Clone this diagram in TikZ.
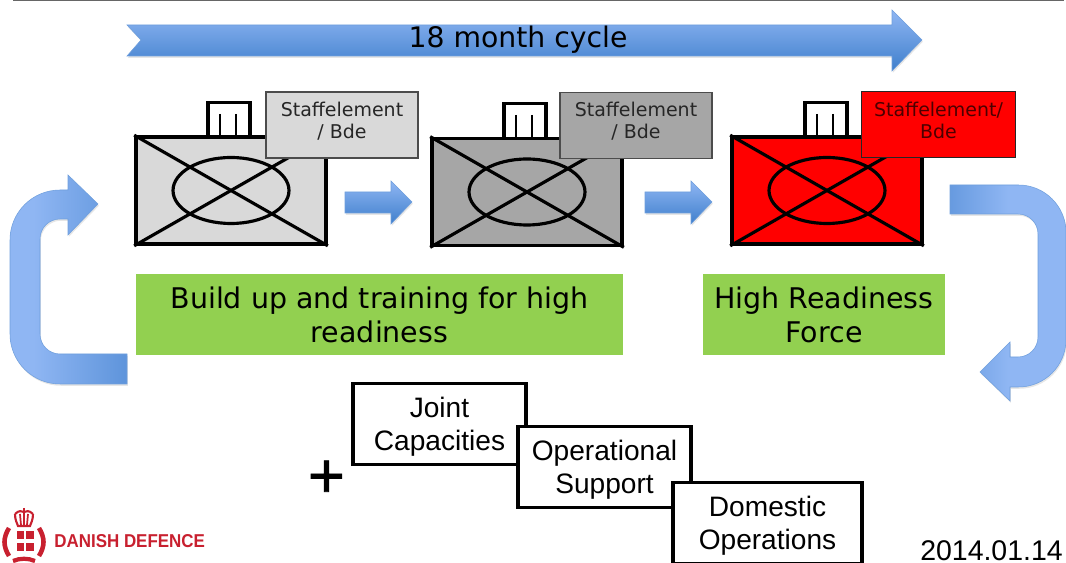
\documentclass[tikz,border=0pt]{standalone}
\usepackage{fontspec}
\setmainfont{DejaVu Sans}
\newfontfamily\arialfont{Liberation Sans}
\newfontfamily\plusfont[FakeBold=1.2]{Liberation Sans}
\usetikzlibrary{positioning, calc, shadows, shapes.geometric}
\definecolor{arrowlight}{HTML}{8FB6F3}
\definecolor{arrowdark}{HTML}{3F7FCC}
\definecolor{arrowedge}{HTML}{6F9FDC}
\definecolor{lightbde}{HTML}{D9D9D9}
\definecolor{midbde}{HTML}{A6A6A6}
\definecolor{greenbox}{HTML}{92D050}
\definecolor{logored}{HTML}{C8202F}
\newcommand{\staffdrop}{\rule[-5.8pt]{0pt}{0pt}}
\newcommand{\tasklift}{\rule{0pt}{15pt}}
\pgfdeclarehorizontalshading{ushadeleft}{100bp}{color(0bp)=(arrowlight); color(35bp)=(arrowlight); color(100bp)=(arrowdark)}
\pgfdeclarehorizontalshading{ushaderight}{100bp}{color(0bp)=(arrowdark); color(50bp)=(arrowlight); color(100bp)=(arrowlight)}
\tikzset{
	blockarrow/.style={draw=arrowedge, line width=.3pt, drop shadow={opacity=.2, shadow xshift=.5pt, shadow yshift=-1pt}},
	vertarrow/.style={blockarrow, top color=arrowlight, bottom color=arrowdark},
	bdebox/.style={draw=black, line width=2.1pt, minimum width=3.8cm, minimum height=2.14cm, inner sep=0pt, drop shadow={opacity=.25, shadow xshift=.5pt, shadow yshift=-1pt}},
	tabbox/.style={draw=black, line width=2.1pt, fill=white, minimum width=.84cm, minimum height=.7cm, inner sep=0pt},
	echelon/.style={draw=black, line width=1.8pt, ellipse, minimum width=2.32cm, minimum height=1.32cm, inner sep=0pt},
	crossline/.style={line width=1.8pt},
	tabline/.style={line width=1.7pt},
	staffbox/.style={draw=black!70, line width=.6pt, minimum width=3.04cm, minimum height=1.32cm, inner sep=0pt, align=center, font=\fontsize{10.8}{12.6}\selectfont},
	phasebox/.style={fill=greenbox, minimum height=1.62cm, inner sep=0pt, align=center, font=\fontsize{16.2}{19.3}\selectfont},
	taskbox/.style={draw=black, fill=white, line width=1.9pt, minimum height=1.62cm, inner sep=0pt, align=center, font=\arialfont\fontsize{16}{18.9}\selectfont},
}

\begin{document}
\begin{tikzpicture}[x=.02cm, y=-.02cm]
	\useasboundingbox (0,0) rectangle (1066,563);

	\draw [gray!80!black, line width=.8pt] (13,.5) -- (1064,.5);

	% cycle arrow
	\draw [vertarrow] (127,25) -- (892,25) -- (892,10) -- (922,40) -- (892,71) -- (892,56) -- (127,56) -- (141,40) -- cycle;
	\node (cycle) at (518,40) {\fontsize{16.1}{19}\selectfont 18 month cycle};

	% first brigade
	\node [tabbox] (taba) at (229,120) {};
	\draw [tabline] (220,114) -- (220,137);
	\draw [tabline] (236,114) -- (236,137);
	\node [bdebox, fill=lightbde] (boxa) at (231,190.5) {};
	\node [echelon] (ella) at (boxa) {};
	\draw [crossline] (boxa.north west) -- (boxa.south east);
	\draw [crossline] (boxa.south west) -- (boxa.north east);
	\node [staffbox, fill=lightbde, text=black!85] (staffa) at (342,125) {Staffelement\\/ Bde\staffdrop};

	% second brigade
	\node [tabbox] (tabb) at (525,121) {};
	\draw [tabline] (516,115) -- (516,138);
	\draw [tabline] (532,115) -- (532,138);
	\node [bdebox, fill=midbde] (boxb) at (527,192) {};
	\node [echelon] (ellb) at (boxb) {};
	\draw [crossline] (boxb.north west) -- (boxb.south east);
	\draw [crossline] (boxb.south west) -- (boxb.north east);
	\node [staffbox, fill=midbde, text=black!85] (staffb) at (636,125.5) {Staffelement\\/ Bde\staffdrop};

	% third brigade
	\node [tabbox] (tabc) at (826,120) {};
	\draw [tabline] (817,114) -- (817,137);
	\draw [tabline] (833,114) -- (833,137);
	\node [bdebox, fill=red] (boxc) at (827,190.5) {};
	\node [echelon] (ellc) at (boxc) {};
	\draw [crossline] (boxc.north west) -- (boxc.south east);
	\draw [crossline] (boxc.south west) -- (boxc.north east);
	\node [staffbox, draw=black!85, fill=red, text=red!30!black, minimum width=3.08cm] (staffc) at (938.5,124.5) {Staffelement/\\Bde\rule[-4.6pt]{0pt}{0pt}};

	% small arrows
	\draw [vertarrow] (345,192) -- (391,192) -- (391,181) -- (412,202) -- (391,224) -- (391,213) -- (345,213) -- cycle;
	\draw [vertarrow] (645,192) -- (691,192) -- (691,181) -- (712,202) -- (691,224) -- (691,213) -- (645,213) -- cycle;

	% big return arrows
	\draw [blockarrow, shading=ushadeleft] (127,384) [rounded corners=1cm] -- (10,384) -- (10,190) [sharp corners] -- (68,190) -- (68,175) -- (98,204) -- (68,235) -- (68,219) [rounded corners=.4cm] -- (40,219) -- (40,354) [sharp corners] -- (127,354) -- cycle;
	\draw [blockarrow, shading=ushaderight] (950,185) [rounded corners=.95cm] -- (1066,185) -- (1066,387) [sharp corners] -- (1010,387) -- (1010,401) -- (980,372) -- (1010,342) -- (1010,357) [rounded corners=.4cm] -- (1038,357) -- (1038,214) [sharp corners] -- (950,214) -- cycle;

	% phases
	\node [phasebox, minimum width=9.74cm] (buildup) at (379.5,314.5) {Build up and training for high\\readiness};
	\node [phasebox, minimum width=4.84cm] (readiness) at (824,314.5) {High Readiness\\Force};

	% tasks
	\node [taskbox, minimum width=3.46cm] (joint) at (439.5,424) {\tasklift Joint\\Capacities};
	\node [taskbox, minimum width=3.46cm] (support) at (604.5,467) {\tasklift Operational\\Support};
	\node [taskbox, minimum width=3.78cm] (domestic) at (767.5,523) {\tasklift Domestic\\Operations};
	\node [font=\plusfont\fontsize{36}{36}\selectfont, inner sep=0pt] (plus) at (326.5,479) {+};

	\node [font=\arialfont\fontsize{16.2}{18}\selectfont, inner sep=0pt] (date) at (991.5,550.5) {2014.01.14};

	% logo
	\fill [logored] (17,531) rectangle (24,539);
	\fill [logored] (26,531) rectangle (34,539);
	\fill [logored] (17,543) rectangle (24,551);
	\fill [logored] (26,543) rectangle (34,551);
	\draw [logored, line width=2.6pt] (9,528) .. controls (3,538) and (3,546) .. (9,556);
	\draw [logored, line width=2.6pt] (39,528) .. controls (45,538) and (45,546) .. (39,556);
	\draw [logored, line width=2.4pt] (13,561) .. controls (20,558) and (28,558) .. (35,561);
	\draw [logored, line width=1.2pt] (15,514) .. controls (15,520) and (17,523) .. (18,526) -- (30,526) .. controls (31,523) and (33,520) .. (33,514);
	\draw [logored, line width=1pt] (21,525) -- (20,514) (24,525) -- (24,512) (27,525) -- (28,514);
	\draw [logored, line width=1.2pt] (15,514) .. controls (19,510) and (22,511) .. (24,512) .. controls (26,511) and (29,510) .. (33,514);
	\draw [logored, line width=1.1pt] (24,508) -- (24,512);
	\node [logored, font=\arialfont\bfseries\fontsize{10.6}{12}\selectfont, anchor=west, inner sep=0pt] (danish) at (54,541) {\scalebox{.91}[1]{DANISH DEFENCE}};
\end{tikzpicture}
\end{document}
